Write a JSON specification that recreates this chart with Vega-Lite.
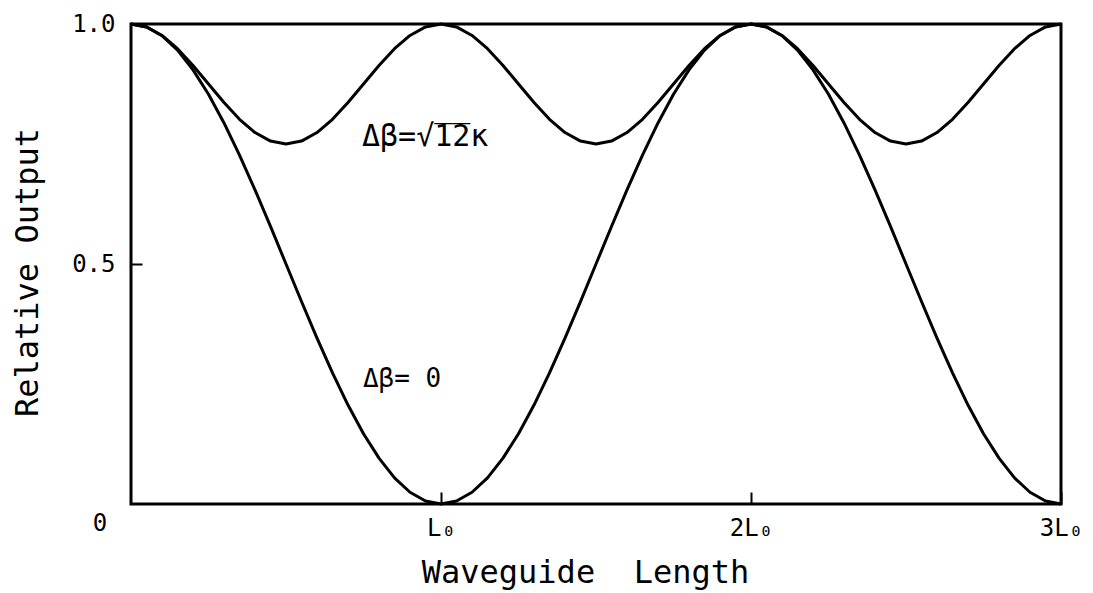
{
  "$schema": "https://vega.github.io/schema/vega-lite/v6.json",
  "autosize": {"type": "none"},
  "padding": {"left": 131, "top": 24, "right": 32, "bottom": 89},
  "width": 930,
  "height": 480,
  "background": "white",
  "config": {
    "font": "DejaVu Sans Mono",
    "view": {"stroke": "black", "strokeWidth": 3},
    "text": {"font": "DejaVu Sans Mono", "color": "black"}
  },
  "datasets": {
    "curves": [
      {"z": 0, "dB0": 1, "dB12": 1},
      {"z": 0.05, "dB0": 0.99384, "dB12": 0.99388},
      {"z": 0.1, "dB0": 0.97553, "dB12": 0.97613},
      {"z": 0.15, "dB0": 0.9455, "dB12": 0.94847},
      {"z": 0.2, "dB0": 0.90451, "dB12": 0.91363},
      {"z": 0.25, "dB0": 0.85355, "dB12": 0.875},
      {"z": 0.3, "dB0": 0.79389, "dB12": 0.83637},
      {"z": 0.35, "dB0": 0.727, "dB12": 0.80153},
      {"z": 0.4, "dB0": 0.65451, "dB12": 0.77387},
      {"z": 0.45, "dB0": 0.57822, "dB12": 0.75612},
      {"z": 0.5, "dB0": 0.5, "dB12": 0.75},
      {"z": 0.55, "dB0": 0.42178, "dB12": 0.75612},
      {"z": 0.6, "dB0": 0.34549, "dB12": 0.77387},
      {"z": 0.65, "dB0": 0.273, "dB12": 0.80153},
      {"z": 0.7, "dB0": 0.20611, "dB12": 0.83637},
      {"z": 0.75, "dB0": 0.14645, "dB12": 0.875},
      {"z": 0.8, "dB0": 0.09549, "dB12": 0.91363},
      {"z": 0.85, "dB0": 0.0545, "dB12": 0.94847},
      {"z": 0.9, "dB0": 0.02447, "dB12": 0.97613},
      {"z": 0.95, "dB0": 0.00616, "dB12": 0.99388},
      {"z": 1.0, "dB0": 0, "dB12": 1},
      {"z": 1.05, "dB0": 0.00616, "dB12": 0.99388},
      {"z": 1.1, "dB0": 0.02447, "dB12": 0.97613},
      {"z": 1.15, "dB0": 0.0545, "dB12": 0.94847},
      {"z": 1.2, "dB0": 0.09549, "dB12": 0.91363},
      {"z": 1.25, "dB0": 0.14645, "dB12": 0.875},
      {"z": 1.3, "dB0": 0.20611, "dB12": 0.83637},
      {"z": 1.35, "dB0": 0.273, "dB12": 0.80153},
      {"z": 1.4, "dB0": 0.34549, "dB12": 0.77387},
      {"z": 1.45, "dB0": 0.42178, "dB12": 0.75612},
      {"z": 1.5, "dB0": 0.5, "dB12": 0.75},
      {"z": 1.55, "dB0": 0.57822, "dB12": 0.75612},
      {"z": 1.6, "dB0": 0.65451, "dB12": 0.77387},
      {"z": 1.65, "dB0": 0.727, "dB12": 0.80153},
      {"z": 1.7, "dB0": 0.79389, "dB12": 0.83637},
      {"z": 1.75, "dB0": 0.85355, "dB12": 0.875},
      {"z": 1.8, "dB0": 0.90451, "dB12": 0.91363},
      {"z": 1.85, "dB0": 0.9455, "dB12": 0.94847},
      {"z": 1.9, "dB0": 0.97553, "dB12": 0.97613},
      {"z": 1.95, "dB0": 0.99384, "dB12": 0.99388},
      {"z": 2.0, "dB0": 1, "dB12": 1},
      {"z": 2.05, "dB0": 0.99384, "dB12": 0.99388},
      {"z": 2.1, "dB0": 0.97553, "dB12": 0.97613},
      {"z": 2.15, "dB0": 0.9455, "dB12": 0.94847},
      {"z": 2.2, "dB0": 0.90451, "dB12": 0.91363},
      {"z": 2.25, "dB0": 0.85355, "dB12": 0.875},
      {"z": 2.3, "dB0": 0.79389, "dB12": 0.83637},
      {"z": 2.35, "dB0": 0.727, "dB12": 0.80153},
      {"z": 2.4, "dB0": 0.65451, "dB12": 0.77387},
      {"z": 2.45, "dB0": 0.57822, "dB12": 0.75612},
      {"z": 2.5, "dB0": 0.5, "dB12": 0.75},
      {"z": 2.55, "dB0": 0.42178, "dB12": 0.75612},
      {"z": 2.6, "dB0": 0.34549, "dB12": 0.77387},
      {"z": 2.65, "dB0": 0.273, "dB12": 0.80153},
      {"z": 2.7, "dB0": 0.20611, "dB12": 0.83637},
      {"z": 2.75, "dB0": 0.14645, "dB12": 0.875},
      {"z": 2.8, "dB0": 0.09549, "dB12": 0.91363},
      {"z": 2.85, "dB0": 0.0545, "dB12": 0.94847},
      {"z": 2.9, "dB0": 0.02447, "dB12": 0.97613},
      {"z": 2.95, "dB0": 0.00616, "dB12": 0.99388},
      {"z": 3.0, "dB0": 0, "dB12": 1}
    ]
  },
  "layer": [
    {
      "data": {"name": "curves"},
      "transform": [{"fold": ["dB0", "dB12"], "as": ["curve", "output"]}],
      "mark": {"type": "line", "color": "black", "strokeWidth": 3, "strokeJoin": "round"},
      "encoding": {
        "x": {
          "field": "z",
          "type": "quantitative",
          "scale": {"domain": [0, 3], "nice": false, "zero": false},
          "axis": {
            "title": "Waveguide\u00a0\u00a0Length",
            "titleFont": "DejaVu Sans Mono",
            "titleFontSize": 32,
            "titleFontWeight": "normal",
            "titleColor": "black",
            "titleAlign": "center",
            "titleBaseline": "alphabetic",
            "titleX": 454,
            "titleY": 78,
            "values": [1, 2, 3],
            "labelExpr": "datum.value == 1 ? 'L₀' : datum.value == 2 ? '2L₀' : '3L₀'",
            "labelFont": "DejaVu Sans Mono",
            "labelFontSize": 24,
            "labelColor": "black",
            "labelPadding": 24,
            "labelFlush": false,
            "labelOverlap": false,
            "tickSize": -12,
            "tickWidth": 2,
            "tickColor": "black",
            "domain": false,
            "grid": false
          }
        },
        "y": {
          "field": "output",
          "type": "quantitative",
          "scale": {"domain": [0, 1], "nice": false},
          "axis": {
            "title": "Relative Output",
            "titleFont": "DejaVu Sans Mono",
            "titleFontSize": 32,
            "titleFontWeight": "normal",
            "titleColor": "black",
            "titleAlign": "center",
            "titleBaseline": "alphabetic",
            "titleAngle": 270,
            "titleX": -94,
            "titleY": 248,
            "values": [0.5, 1],
            "format": ".1f",
            "labelFont": "DejaVu Sans Mono",
            "labelFontSize": 24,
            "labelColor": "black",
            "labelPadding": 27,
            "labelFlush": false,
            "labelOverlap": false,
            "tickSize": -11,
            "tickWidth": 2,
            "tickColor": "black",
            "domain": false,
            "grid": false
          }
        },
        "detail": {"field": "curve"}
      }
    },
    {
      "data": {"values": [{"z": 0.745, "P": 0.765, "label": "Δβ=√\u03051\u03052κ"}]},
      "mark": {"type": "text", "align": "left", "baseline": "middle", "fontSize": 30},
      "encoding": {
        "x": {"field": "z", "type": "quantitative"},
        "y": {"field": "P", "type": "quantitative"},
        "text": {"field": "label"}
      }
    },
    {
      "data": {"values": [{"z": 0.748, "P": 0.26, "label": "Δβ= 0"}]},
      "mark": {"type": "text", "align": "left", "baseline": "middle", "fontSize": 26},
      "encoding": {
        "x": {"field": "z", "type": "quantitative"},
        "y": {"field": "P", "type": "quantitative"},
        "text": {"field": "label"}
      }
    },
    {
      "data": {"values": [{"z": 0, "P": 0, "label": "0"}]},
      "mark": {"type": "text", "align": "center", "baseline": "middle", "fontSize": 24, "dx": -31, "dy": 20},
      "encoding": {
        "x": {"field": "z", "type": "quantitative"},
        "y": {"field": "P", "type": "quantitative"},
        "text": {"field": "label"}
      }
    }
  ]
}
